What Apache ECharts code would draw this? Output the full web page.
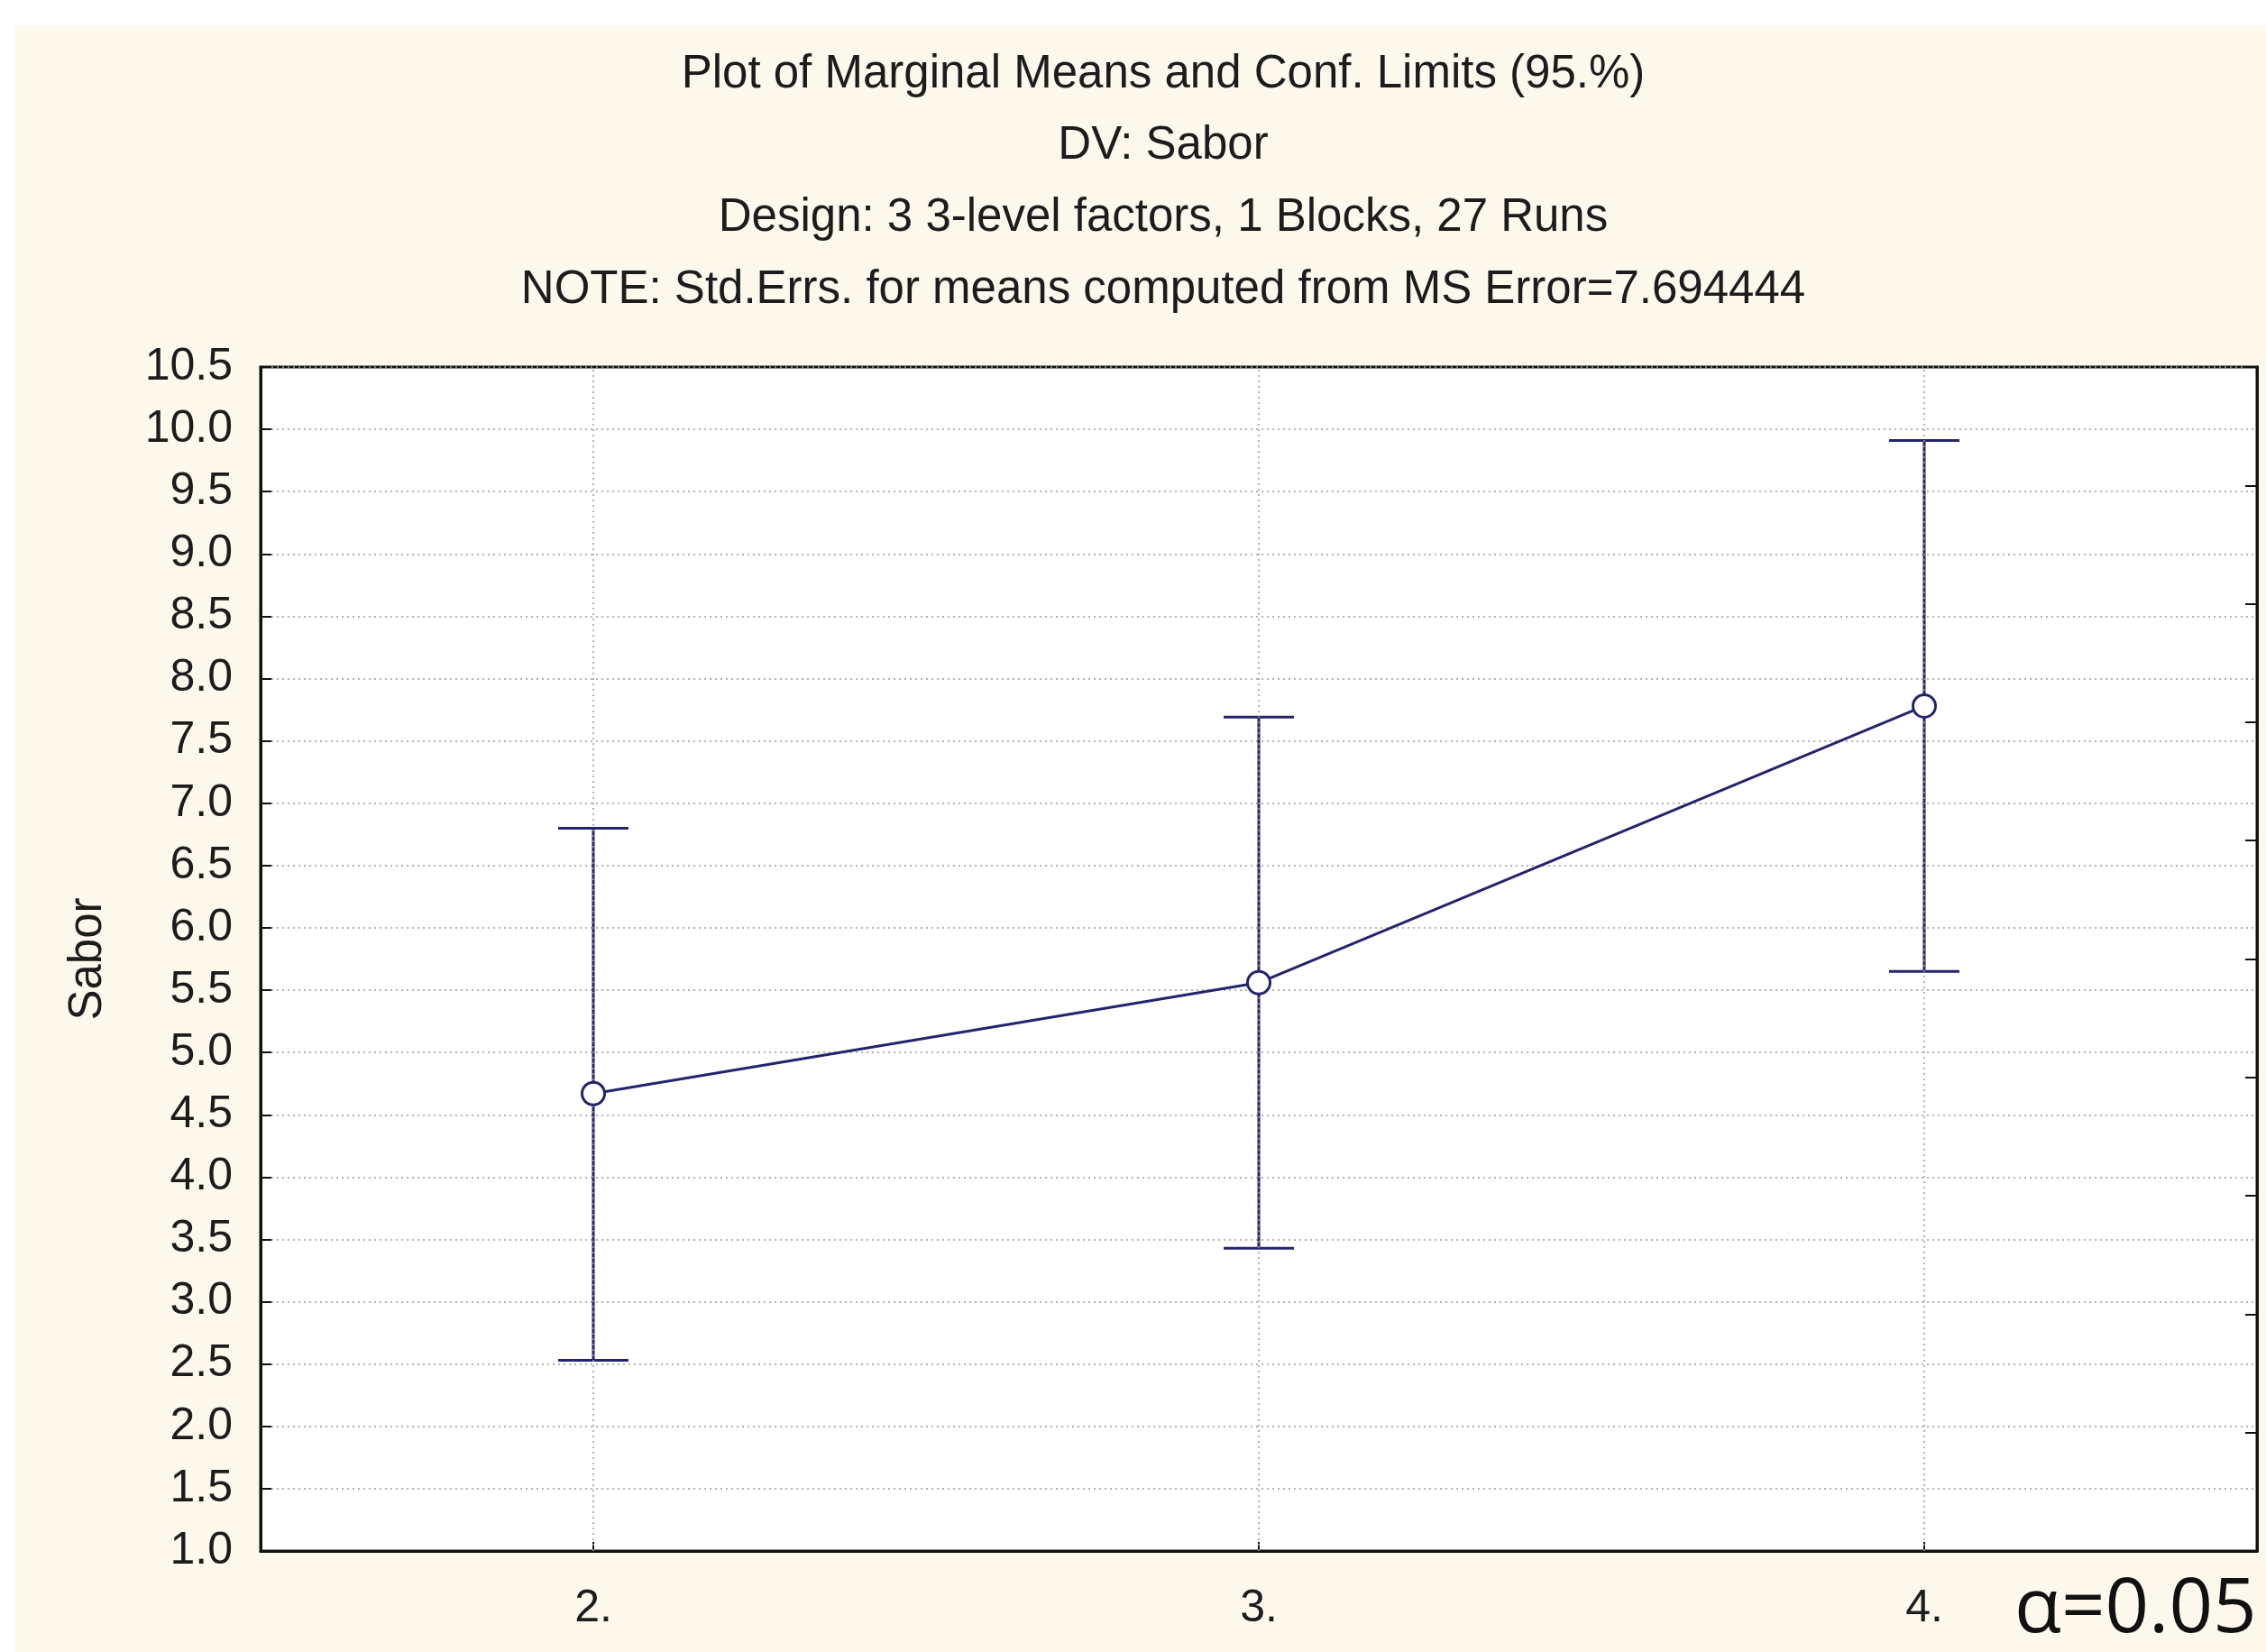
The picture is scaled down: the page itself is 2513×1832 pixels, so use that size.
<!DOCTYPE html>
<html>
<head>
<meta charset="utf-8">
<script src="https://cdn.jsdelivr.net/npm/echarts@6/dist/echarts.min.js"></script>
<style>
html,body{margin:0;padding:0;background:#ffffff;}
#chart{width:2513px;height:1832px;}
</style>
</head>
<body>
<div id="chart"></div>
<script>
// ---- data ----
const categories = ['2.', '3.', '4.'];
const means = [4.67, 5.56, 7.78];
const lowerCL = [2.53, 3.43, 5.65];
const upperCL = [6.80, 7.69, 9.91];
const titleLines = [
  'Plot of Marginal Means and Conf. Limits (95.%)',
  'DV: Sabor',
  'Design: 3 3-level factors, 1 Blocks, 27 Runs',
  'NOTE: Std.Errs. for means computed from MS Error=7.694444'
];
const yAxisName = 'Sabor';
const alphaNote = 'α=0.05';

// ---- chart ----
const NAVY = '#24246c';
const FONT = '"Liberation Sans", Arial, sans-serif';
const chart = echarts.init(document.getElementById('chart'));

const graphics = [
  { type: 'rect', z: -100, shape: { x: 17, y: 28, width: 2496, height: 1804 }, style: { fill: '#fcf8ec' }, silent: true }
];
const titleY = [83, 162, 242, 322];
titleLines.forEach((t, i) => {
  graphics.push({
    type: 'text', x: 1290, y: titleY[i],
    style: { text: t, font: '51px ' + FONT, fill: '#1c1c1c', textAlign: 'center', textVerticalAlign: 'middle' }
  });
});
graphics.push({
  type: 'text', x: 2234, y: 1786,
  style: { text: alphaNote, font: '85px "Open Sans", sans-serif', fill: '#111111', textAlign: 'left', textVerticalAlign: 'middle' }
});

chart.setOption({
  backgroundColor: 'transparent',
  animation: false,
  graphic: graphics,
  grid: {
    left: 289, top: 407, right: 10, bottom: 112,
    show: true, backgroundColor: '#ffffff', borderColor: '#111111', borderWidth: 3
  },
  xAxis: {
    type: 'category',
    data: categories,
    boundaryGap: true,
    axisLine: { show: true, lineStyle: { color: '#111111', width: 3 } },
    axisTick: { show: true, inside: true, alignWithLabel: true, length: 10, lineStyle: { color: '#111111', width: 2 } },
    axisLabel: { fontSize: 50, fontFamily: FONT, color: '#1c1c1c', margin: 39 },
    splitLine: { show: false }
  },
  yAxis: [
    {
      type: 'value', min: 1.0, max: 10.5, interval: 0.5,
      name: yAxisName, nameLocation: 'middle', nameGap: 166, nameRotate: 90,
      nameTextStyle: { fontSize: 51, fontFamily: FONT, color: '#1c1c1c' },
      axisLine: { show: true, lineStyle: { color: '#111111', width: 3 } },
      axisTick: { show: true, inside: true, length: 12, lineStyle: { color: '#111111', width: 2 } },
      axisLabel: { fontSize: 50, fontFamily: FONT, color: '#1c1c1c', margin: 31, formatter: v => v.toFixed(1) },
      splitLine: { show: true, lineStyle: { color: '#999999', width: 1.5, type: [2, 4] } }
    },
    {
      type: 'value', min: 0, max: 10, interval: 1, position: 'right',
      axisLine: { show: true, lineStyle: { color: '#111111', width: 3 } },
      axisTick: { show: true, inside: true, length: 13, lineStyle: { color: '#111111', width: 2 } },
      axisLabel: { show: false },
      splitLine: { show: false }
    }
  ],
  series: [
    {
      type: 'custom',
      z: 3,
      data: categories.map((c, i) => [i, lowerCL[i], upperCL[i]]),
      renderItem: function (params, api) {
        const x = api.value(0);
        const lo = api.coord([x, api.value(1)]);
        const hi = api.coord([x, api.value(2)]);
        const half = 39;
        const st = { stroke: NAVY, lineWidth: 3 };
        return {
          type: 'group',
          children: [
            { type: 'line', shape: { x1: lo[0], y1: lo[1], x2: hi[0], y2: hi[1] }, style: st },
            { type: 'line', shape: { x1: hi[0] - half, y1: hi[1], x2: hi[0] + half, y2: hi[1] }, style: st },
            { type: 'line', shape: { x1: lo[0] - half, y1: lo[1], x2: lo[0] + half, y2: lo[1] }, style: st }
          ]
        };
      }
    },
    {
      type: 'line',
      z: 5,
      data: means,
      symbol: 'circle',
      symbolSize: 25,
      lineStyle: { color: NAVY, width: 3 },
      itemStyle: { color: '#ffffff', borderColor: NAVY, borderWidth: 3 },
      markLine: {
        silent: true,
        symbol: ['none', 'none'],
        label: { show: false },
        lineStyle: { color: '#999999', width: 1.5, type: [2, 4] },
        data: categories.map(c => ({ xAxis: c }))
      }
    }
  ]
});
</script>
</body>
</html>
